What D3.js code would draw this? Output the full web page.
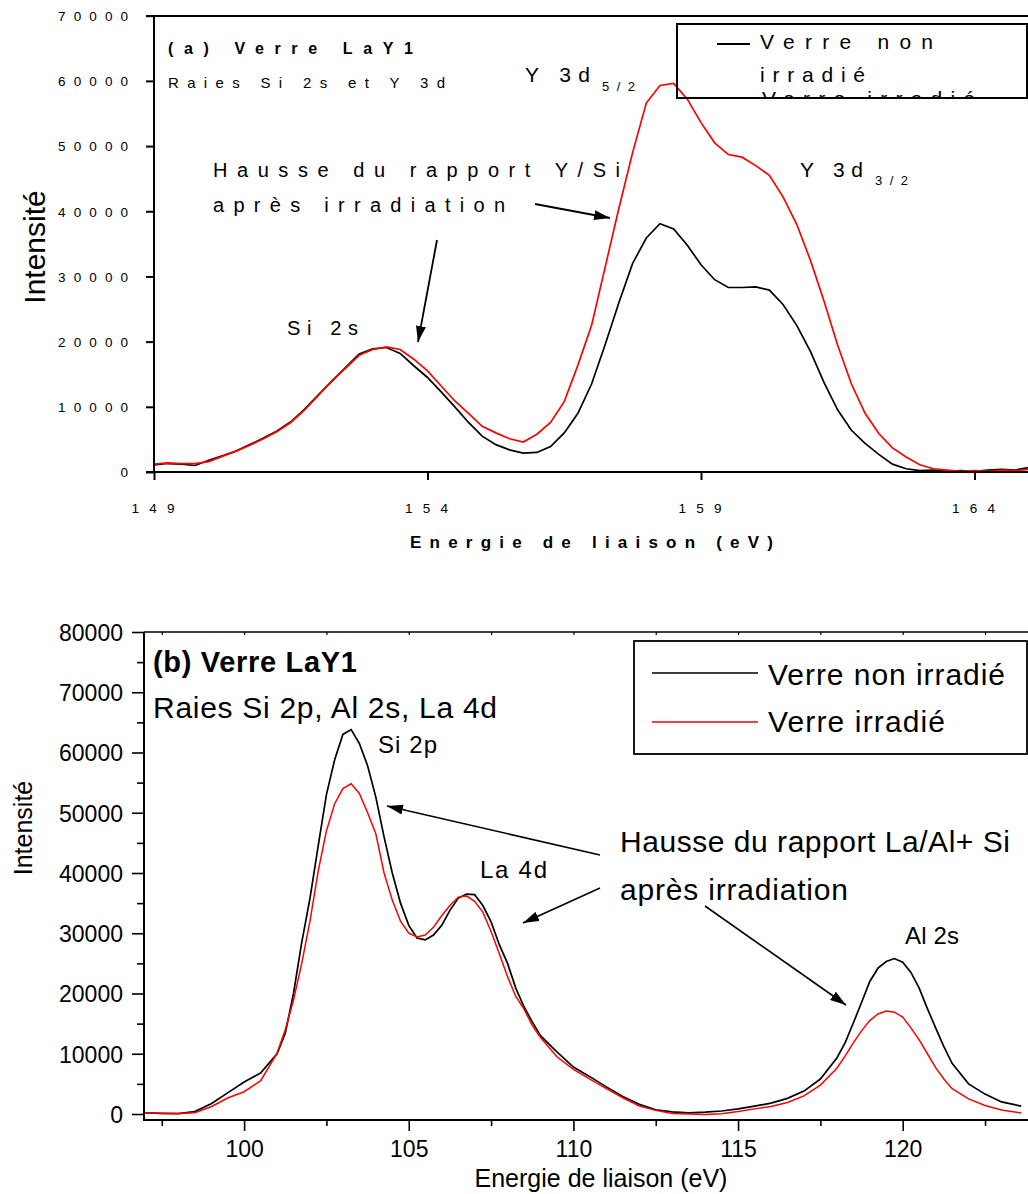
<!DOCTYPE html>
<html><head><meta charset="utf-8">
<script src="https://cdn.jsdelivr.net/npm/d3@7"></script>
<style>
body{margin:0;background:#fff}
svg{display:block}
text{font-family:'Liberation Sans',Arial,Helvetica,sans-serif;fill:#000}
</style>
</head><body>
<svg id="c" width="1028" height="1194"></svg>
<script>
// ---------- DATA : (a) Si 2s / Y 3d ----------
const energyA = [149,149.25,149.5,149.75,150,150.25,150.5,150.75,151,151.25,151.5,151.75,152,152.25,152.5,152.75,153,153.25,153.5,153.75,154,154.25,154.5,154.75,155,155.25,155.5,155.75,156,156.25,156.5,156.75,157,157.25,157.5,157.75,158,158.25,158.5,158.75,159,159.25,159.5,159.75,160,160.25,160.5,160.75,161,161.25,161.5,161.75,162,162.25,162.5,162.75,163,163.25,163.5,163.75,164,164.25,164.5,164.75,165];
const nonIrrA = [1100,1300,1200,1000,1800,2500,3200,4200,5200,6300,7700,9600,11800,13900,16000,18100,18900,19100,18200,16300,14500,12300,10000,7600,5500,4200,3400,2900,3000,3900,6000,9000,13500,19600,26000,32000,35900,38100,37300,34800,31800,29500,28300,28300,28400,27900,25700,22500,18500,13700,9500,6400,4400,2700,1200,500,200,300,100,200,100,300,400,300,700];
const irrA = [1200,1400,1300,1300,1600,2400,3200,4100,5100,6200,7600,9500,11700,14000,15900,17900,18800,19200,18800,17300,15500,13200,10900,9000,7000,6000,5100,4600,5800,7600,10800,16400,22500,31500,40500,49000,56600,59300,59600,57200,53600,50500,48700,48300,47000,45500,42200,38000,32500,26200,19400,13500,9000,5900,3700,2300,1100,500,300,100,200,100,300,200,400];
const yTicksA = [0,10000,20000,30000,40000,50000,60000,70000];
const xTicksA = [149,154,159,164];

// ---------- DATA : (b) Si 2p / Al 2s / La 4d ----------
const energyB = [97,97.5,98,98.5,99,99.5,100,100.5,101,101.25,101.5,101.75,102,102.25,102.5,102.75,103,103.25,103.5,103.75,104,104.25,104.5,104.75,105,105.25,105.5,105.75,106,106.25,106.5,106.75,107,107.25,107.5,107.75,108,108.25,108.5,108.75,109,109.5,110,110.5,111,111.5,112,112.5,113,113.5,114,114.5,115,115.5,116,116.5,117,117.5,118,118.25,118.5,118.75,119,119.25,119.5,119.75,120,120.25,120.5,120.75,121,121.25,121.5,122,122.5,123,123.6];
const nonIrrB = [200,100,50,400,1700,3500,5300,6800,10000,13400,20000,28500,35800,44500,53000,58800,63000,63800,61500,57800,52600,46000,40000,35000,31300,29200,28900,29700,31300,33800,35800,36500,36400,34600,31900,28100,25000,20900,17800,15300,13000,10300,7800,6200,4500,2900,1600,700,350,200,300,500,850,1300,1800,2600,3800,5800,9300,11800,15100,18500,22000,24200,25300,25800,25200,23500,20900,17500,14300,11200,8400,5000,3300,2000,1300];
const irrB = [200,100,100,200,1200,2650,3700,5500,10100,14000,18900,25000,32000,40300,47000,51500,54000,54800,53200,50000,46500,40000,35500,32000,30000,29400,29700,31000,32900,34600,36000,36200,35300,33500,30300,26600,22800,19500,17400,14700,12700,9500,7400,5800,4200,2700,1300,600,100,0,-100,50,400,850,1250,1900,3000,4800,7600,9600,11800,13800,15500,16600,17100,16900,16100,14300,12300,10000,7700,5800,4200,2500,1400,650,150];
const yTicksB = [0,10000,20000,30000,40000,50000,60000,70000,80000];
const yMinorB = [5000,15000,25000,35000,45000,55000,65000,75000];
const xTicksB = [100,105,110,115,120];
const xMinorB = [97.5,102.5,107.5,112.5,117.5,122.5];

const seriesNames = ["Verre non irradié","Verre irradié"];
const seriesColors = ["#000000","#ff0000"];

// ---------- DRAW ----------
const svg = d3.select("#c");
const defs = svg.append("defs");
defs.append("marker").attr("id","arr").attr("markerUnits","userSpaceOnUse")
  .attr("viewBox","0 0 16 10").attr("markerWidth",16).attr("markerHeight",10)
  .attr("refX",16).attr("refY",5).attr("orient","auto")
  .append("path").attr("d","M0,0 L16,5 L0,10 z").attr("fill","#000");

function txt(g, s, x, y, size, o = {}) {
  const t = g.append("text").attr("x", x).attr("y", y).style("font-size", size + "px").text(s);
  if (o.bold) t.style("font-weight", "bold");
  if (o.anchor) t.attr("text-anchor", o.anchor);
  if (o.len) t.attr("textLength", o.len).attr("lengthAdjust", "spacing");
  return t;
}
function arrow(g, x1, y1, x2, y2, w) {
  g.append("line").attr("x1",x1).attr("y1",y1).attr("x2",x2).attr("y2",y2)
    .attr("stroke","#000").attr("stroke-width",w||1.6).attr("marker-end","url(#arr)");
}

// ===== Chart (a) =====
const gA = svg.append("g");
const xA = d3.scaleLinear().domain([149,165]).range([154, 154 + 16*54.7]);
const yA = d3.scaleLinear().domain([0,70000]).range([472, 15.7]);

defs.append("clipPath").attr("id","clipA").append("rect").attr("x",154).attr("y",14).attr("width",874).attr("height",460);

const lineA = (vals) => d3.line().x((d,i)=>xA(energyA[i])).y(d=>yA(d))(vals);
const curvesA = gA.append("g").attr("clip-path","url(#clipA)");
curvesA.append("path").attr("d", lineA(nonIrrA)).attr("fill","none").attr("stroke",seriesColors[0]).attr("stroke-width",1.7);
curvesA.append("path").attr("d", lineA(irrA)).attr("fill","none").attr("stroke",seriesColors[1]).attr("stroke-width",1.7);

// axes (a)
const yAxA = gA.append("g").attr("transform","translate(154,0)")
  .call(d3.axisLeft(yA).tickValues(yTicksA).tickSize(8).tickSizeOuter(0).tickFormat(d3.format("d")));
yAxA.select(".domain").remove();
yAxA.selectAll(".tick line").attr("stroke","#000").attr("stroke-width",2);
yAxA.selectAll(".tick text").attr("x",-26).attr("dy","0.36em").style("font-size","13.5px").style("font-family",null)
  .each(function(d){ if (d>0) d3.select(this).attr("textLength",70).attr("lengthAdjust","spacing"); });

const xAxA = gA.append("g").attr("transform","translate(0,472)")
  .call(d3.axisBottom(xA).tickValues(xTicksA).tickSize(8).tickSizeOuter(0).tickFormat(d3.format("d")));
xAxA.select(".domain").remove();
xAxA.selectAll(".tick line").attr("stroke","#000").attr("stroke-width",2);
xAxA.selectAll(".tick text").attr("y",41).attr("dy",0).attr("x",-1.5).style("font-size","13.5px").style("font-family",null)
  .attr("textLength",43).attr("lengthAdjust","spacing");

gA.append("line").attr("x1",154).attr("x2",154).attr("y1",15).attr("y2",473).attr("stroke","#000").attr("stroke-width",2);
gA.append("line").attr("x1",146).attr("x2",1028).attr("y1",472).attr("y2",472).attr("stroke","#000").attr("stroke-width",2);
gA.append("line").attr("x1",146).attr("x2",1028).attr("y1",16).attr("y2",16).attr("stroke","#000").attr("stroke-width",2);

// texts (a)
txt(gA, "(a) Verre LaY1", 168, 54, 16, {bold:true, len:245});
txt(gA, "Raies Si 2s et Y 3d", 168, 88, 15, {len:277});
txt(gA, "Hausse du rapport Y/Si", 213, 177, 20, {len:407});
txt(gA, "après irradiation", 213, 212, 20, {len:292});
txt(gA, "Y 3d", 525, 82, 21, {len:65});
txt(gA, "5/2", 602, 91, 13, {len:33});
txt(gA, "Y 3d", 800, 177, 21, {len:63});
txt(gA, "3/2", 875, 185, 13, {len:33});
txt(gA, "Si 2s", 287, 335, 20, {len:71});
txt(gA, "Energie de liaison (eV)", 410, 548, 17, {bold:true, len:363});
txt(gA, "Intensité", 0, 0, 30, {anchor:"middle"}).attr("transform","translate(45,247) rotate(-90)");
arrow(gA, 535, 204, 610, 218, 1.8);
arrow(gA, 437, 240, 418, 342, 1.8);

// legend (a)
defs.append("clipPath").attr("id","clipLegA").append("rect").attr("x",677).attr("y",24).attr("width",350).attr("height",74);
const legA = gA.append("g");
const legAin = legA.append("g").attr("clip-path","url(#clipLegA)");
legAin.append("line").attr("x1",717).attr("x2",750).attr("y1",44).attr("y2",44).attr("stroke",seriesColors[0]).attr("stroke-width",2);
txt(legAin, "Verre non", 760, 49, 21, {len:173});
txt(legAin, "irradié", 760, 82, 21, {len:105});
legAin.append("line").attr("x1",717).attr("x2",750).attr("y1",100).attr("y2",100).attr("stroke",seriesColors[1]).attr("stroke-width",2);
txt(legAin, seriesNames[1], 762, 106, 21, {len:213});
legA.append("rect").attr("x",677).attr("y",24).attr("width",350).attr("height",74).attr("fill","none").attr("stroke","#000").attr("stroke-width",2);

// ===== Chart (b) =====
const gB = svg.append("g");
const xB = d3.scaleLinear().domain([96.96,124]).range([144, 144 + 27.04*32.93]);
const yB = d3.scaleLinear().domain([0,80000]).range([1114, 632]);

defs.append("clipPath").attr("id","clipB").append("rect").attr("x",144).attr("y",630).attr("width",884).attr("height",490);
const lineB = (vals) => d3.line().x((d,i)=>xB(energyB[i])).y(d=>yB(d))(vals);
const curvesB = gB.append("g").attr("clip-path","url(#clipB)");
curvesB.append("path").attr("d", lineB(nonIrrB)).attr("fill","none").attr("stroke",seriesColors[0]).attr("stroke-width",1.7);
curvesB.append("path").attr("d", lineB(irrB)).attr("fill","none").attr("stroke",seriesColors[1]).attr("stroke-width",1.5);

const yAxB = gB.append("g").attr("transform","translate(144,0)")
  .call(d3.axisLeft(yB).tickValues(yTicksB).tickSize(12).tickSizeOuter(0).tickFormat(d3.format("d")));
yAxB.select(".domain").remove();
yAxB.selectAll(".tick line").attr("stroke","#000").attr("stroke-width",1.6);
yAxB.selectAll(".tick text").attr("x",-21).attr("dy","0.36em").style("font-size","23px").style("font-family",null);
const yAxBm = gB.append("g").attr("transform","translate(144,0)")
  .call(d3.axisLeft(yB).tickValues(yMinorB).tickSize(7).tickSizeOuter(0).tickFormat(""));
yAxBm.select(".domain").remove();
yAxBm.selectAll(".tick line").attr("stroke","#000").attr("stroke-width",1.6);

const xAxB = gB.append("g").attr("transform","translate(0,1120)")
  .call(d3.axisBottom(xB).tickValues(xTicksB).tickSize(11).tickSizeOuter(0).tickFormat(d3.format("d")));
xAxB.select(".domain").remove();
xAxB.selectAll(".tick line").attr("stroke","#000").attr("stroke-width",1.6);
xAxB.selectAll(".tick text").attr("y",37).attr("dy",0).style("font-size","23px").style("font-family",null);
const xAxBm = gB.append("g").attr("transform","translate(0,1120)")
  .call(d3.axisBottom(xB).tickValues(xMinorB).tickSize(6).tickSizeOuter(0).tickFormat(""));
xAxBm.select(".domain").remove();
xAxBm.selectAll(".tick line").attr("stroke","#000").attr("stroke-width",1.6);
const xAxBt = gB.append("g").attr("transform","translate(0,632)")
  .call(d3.axisBottom(xB).tickValues(xTicksB.concat(xMinorB)).tickSize(3).tickSizeOuter(0).tickFormat(""));
xAxBt.select(".domain").remove();
xAxBt.selectAll(".tick line").attr("stroke","#000").attr("stroke-width",1.2);

gB.append("line").attr("x1",144).attr("x2",144).attr("y1",632).attr("y2",1121).attr("stroke","#000").attr("stroke-width",2);
gB.append("line").attr("x1",143).attr("x2",1028).attr("y1",1120).attr("y2",1120).attr("stroke","#000").attr("stroke-width",2);
gB.append("line").attr("x1",144).attr("x2",1028).attr("y1",632).attr("y2",632).attr("stroke","#000").attr("stroke-width",1.6);

txt(gB, "(b) Verre LaY1", 153, 672, 29, {bold:true, len:204});
txt(gB, "Raies Si 2p, Al 2s, La 4d", 153, 718, 30, {len:344});
txt(gB, "Si 2p", 378, 753, 24, {len:59});
txt(gB, "La 4d", 480, 878, 24, {len:67});
txt(gB, "Al 2s", 905, 944, 24, {len:54});
txt(gB, "Hausse du rapport La/Al+ Si", 620, 852, 30, {len:390});
txt(gB, "après irradiation", 620, 900, 30, {len:228});
txt(gB, "Energie de liaison (eV)", 601, 1187, 25, {anchor:"middle"});
txt(gB, "Intensité", 0, 0, 25, {anchor:"middle"}).attr("transform","translate(32,828) rotate(-90)");
arrow(gB, 600, 855, 387, 806, 1.6);
arrow(gB, 600, 888, 523, 923, 1.6);
arrow(gB, 705, 906, 846, 1005, 1.6);

// legend (b)
const legB = gB.append("g");
legB.append("rect").attr("x",634).attr("y",641).attr("width",393).attr("height",113).attr("fill","none").attr("stroke","#000").attr("stroke-width",1.8);
legB.append("line").attr("x1",652).attr("x2",758).attr("y1",673).attr("y2",673).attr("stroke",seriesColors[0]).attr("stroke-width",1.6);
legB.append("line").attr("x1",652).attr("x2",758).attr("y1",722).attr("y2",722).attr("stroke",seriesColors[1]).attr("stroke-width",1.5);
txt(legB, seriesNames[0], 768, 685, 30, {len:237});
txt(legB, seriesNames[1], 768, 732, 30, {len:177});
</script>
</body></html>
